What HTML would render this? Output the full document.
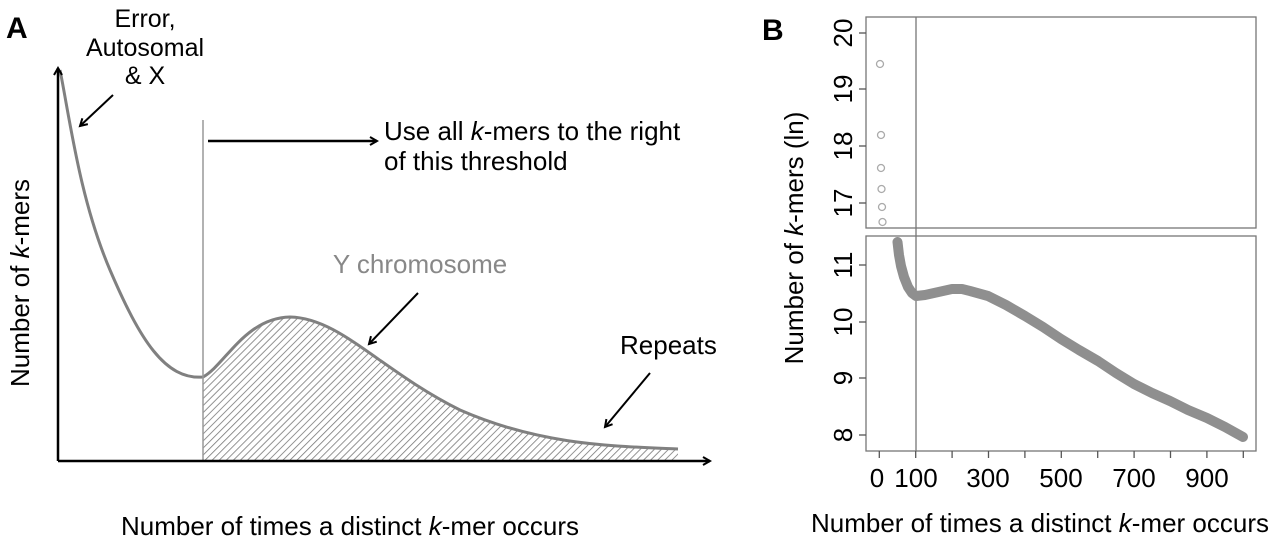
<!DOCTYPE html>
<html><head><meta charset="utf-8"><style>
html,body{margin:0;padding:0;background:#fff}
svg{display:block}
text{font-family:"Liberation Sans",Arial,sans-serif}
</style></head><body>
<svg width="1280" height="538" viewBox="0 0 1280 538" xmlns="http://www.w3.org/2000/svg">
<defs>
<pattern id="h" width="5" height="5" patternUnits="userSpaceOnUse" patternTransform="rotate(45)">
<line x1="0" y1="0" x2="0" y2="5" stroke="#777" stroke-width="1.6"/>
</pattern>
<marker id="ar" markerWidth="10" markerHeight="10" refX="8" refY="5" orient="auto" markerUnits="userSpaceOnUse">
<path d="M1,1 L8,5 L1,9" fill="none" stroke="#000" stroke-width="2"/>
</marker>
</defs>
<!-- Panel A -->
<text x="6" y="38" font-size="30" font-weight="bold">A</text>
<path d="M203,377 C225,365 245,318 290,317 C340,318 380,370 460,410 C540,445 610,446 678,449 L678,461 L203,461 Z" fill="url(#h)"/>
<path d="M60,70 C70,120 80,200 110,270 C140,340 165,380 203,377 C225,365 245,318 290,317 C340,318 380,370 460,410 C540,445 610,446 678,449" fill="none" stroke="#808080" stroke-width="3"/>
<line x1="203" y1="120" x2="203" y2="461" stroke="#999" stroke-width="1.5"/>
<line x1="58" y1="461" x2="58" y2="68" stroke="#000" stroke-width="2.5" marker-end="url(#ar)"/>
<line x1="58" y1="461" x2="710" y2="461" stroke="#000" stroke-width="2.5" marker-end="url(#ar)"/>
<text font-size="25" text-anchor="middle"><tspan x="145" y="27">Error,</tspan><tspan x="145" y="56">Autosomal</tspan><tspan x="145" y="84">&amp; X</tspan></text>
<line x1="113" y1="95" x2="80" y2="126" stroke="#000" stroke-width="2" marker-end="url(#ar)"/>
<line x1="208" y1="141" x2="377" y2="141" stroke="#000" stroke-width="2.5" marker-end="url(#ar)"/>
<text font-size="26" x="384" y="140">Use all <tspan font-style="italic">k</tspan>-mers to the right</text>
<text font-size="26" x="384" y="170">of this threshold</text>
<text font-size="26" x="420" y="273" text-anchor="middle" fill="#888">Y chromosome</text>
<line x1="418" y1="293" x2="369" y2="344" stroke="#000" stroke-width="2" marker-end="url(#ar)"/>
<text font-size="26" x="620" y="354">Repeats</text>
<line x1="650" y1="373" x2="605" y2="427" stroke="#000" stroke-width="2" marker-end="url(#ar)"/>
<text font-size="26" x="350" y="535" text-anchor="middle">Number of times a distinct <tspan font-style="italic">k</tspan>-mer occurs</text>
<text font-size="26" text-anchor="middle" transform="translate(29,283) rotate(-90)">Number of <tspan font-style="italic">k</tspan>-mers</text>
<!-- Panel B -->
<text x="762" y="40" font-size="30" font-weight="bold">B</text>
<rect x="866" y="17" width="390" height="211" fill="none" stroke="#777" stroke-width="1.3"/>
<rect x="866" y="236" width="390" height="215" fill="none" stroke="#777" stroke-width="1.3"/>
<line x1="916" y1="17" x2="916" y2="451" stroke="#777" stroke-width="1.3"/>
<g fill="none" stroke="#aaa" stroke-width="1.3">
<circle cx="880" cy="64" r="3.5"/><circle cx="881" cy="135" r="3.5"/><circle cx="881" cy="168" r="3.5"/>
<circle cx="881.5" cy="189" r="3.5"/><circle cx="882" cy="207" r="3.5"/><circle cx="882.5" cy="222" r="3.5"/>
</g>
<polyline fill="none" stroke="#8f8f8f" stroke-width="10" stroke-linejoin="round" stroke-linecap="round"
points="897.5,242 899,255 901,266 904,277 908,287 912,293 916,296 925,295 934,293 952,289 962,289 970,291 988,296 1006,305 1025,316 1043,327 1061,339 1079,350 1098,361 1116,373 1134,384 1152,393 1170,401 1188,410 1207,418 1225,427 1243,437"/>
<g stroke="#555" stroke-width="1.3">
<line x1="866" y1="435" x2="859" y2="435"/><line x1="866" y1="378" x2="859" y2="378"/>
<line x1="866" y1="322" x2="859" y2="322"/><line x1="866" y1="265" x2="859" y2="265"/>
<line x1="866" y1="203" x2="859" y2="203"/><line x1="866" y1="146" x2="859" y2="146"/>
<line x1="866" y1="89" x2="859" y2="89"/><line x1="866" y1="33" x2="859" y2="33"/>
<line x1="879.3" y1="451" x2="879.3" y2="458"/><line x1="915.7" y1="451" x2="915.7" y2="458"/>
<line x1="952.1" y1="451" x2="952.1" y2="458"/><line x1="988.5" y1="451" x2="988.5" y2="458"/>
<line x1="1024.9" y1="451" x2="1024.9" y2="458"/><line x1="1061.3" y1="451" x2="1061.3" y2="458"/>
<line x1="1097.7" y1="451" x2="1097.7" y2="458"/><line x1="1134.1" y1="451" x2="1134.1" y2="458"/>
<line x1="1170.5" y1="451" x2="1170.5" y2="458"/><line x1="1206.9" y1="451" x2="1206.9" y2="458"/>
<line x1="1243.3" y1="451" x2="1243.3" y2="458"/>
</g>
<g font-size="26" text-anchor="middle">
<text transform="translate(852,435) rotate(-90)">8</text>
<text transform="translate(852,378) rotate(-90)">9</text>
<text transform="translate(852,322) rotate(-90)">10</text>
<text transform="translate(852,265) rotate(-90)">11</text>
<text transform="translate(852,203) rotate(-90)">17</text>
<text transform="translate(852,146) rotate(-90)">18</text>
<text transform="translate(852,89) rotate(-90)">19</text>
<text transform="translate(852,33) rotate(-90)">20</text>
<text x="877" y="487">0</text><text x="916" y="487">100</text><text x="988" y="487">300</text>
<text x="1061" y="487">500</text><text x="1134" y="487">700</text><text x="1207" y="487">900</text>
</g>
<text font-size="26" x="1040" y="532" text-anchor="middle">Number of times a distinct <tspan font-style="italic">k</tspan>-mer occurs</text>
<text font-size="26" text-anchor="middle" transform="translate(803,238) rotate(-90)">Number of <tspan font-style="italic">k</tspan>-mers (ln)</text>
</svg>
</body></html>
